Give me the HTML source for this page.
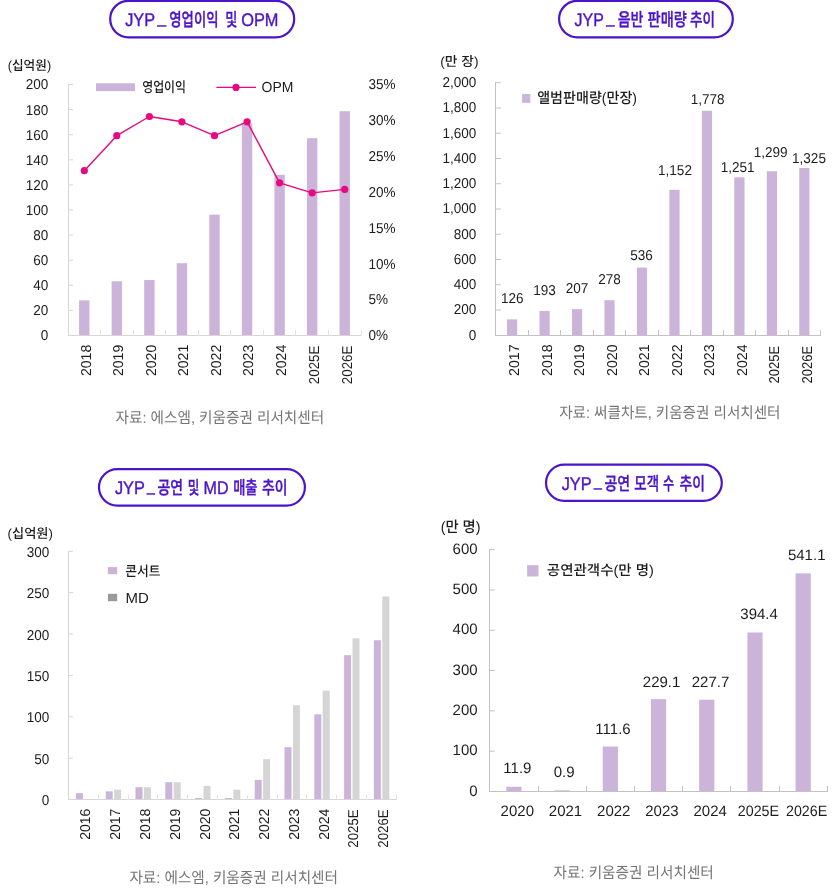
<!DOCTYPE html>
<html lang="ko"><head><meta charset="utf-8"><title>JYP charts</title>
<style>
html,body{margin:0;padding:0;background:#fff}
svg{display:block;will-change:transform}
text{text-rendering:geometricPrecision}
text{font-family:"Liberation Sans","Noto Sans CJK KR",sans-serif}
</style></head><body>
<svg width="833" height="888" viewBox="0 0 833 888">
<rect width="833" height="888" fill="#fff"/>
<g id="c1">
<rect x="110.20" y="0.80" width="184.00" height="36.50" rx="18.25" fill="#fff" stroke="#4b14c9" stroke-width="2.2"/>
<g font-size="18.2" font-weight="500" fill="#4b14c9" stroke="#4b14c9" stroke-width="0.4">
<text x="125.20" y="26.40" textLength="29.80" lengthAdjust="spacingAndGlyphs">JYP</text>
<text x="157.50" y="22.80" textLength="8.50" lengthAdjust="spacingAndGlyphs">_</text>
<text x="169.30" y="26.40" textLength="49.20" lengthAdjust="spacingAndGlyphs">영업이익</text>
<text x="225.30" y="26.40" textLength="12.10" lengthAdjust="spacingAndGlyphs">및</text>
<text x="241.20" y="26.40" textLength="37.30" lengthAdjust="spacingAndGlyphs">OPM</text>
</g>
<text font-size="13.2" fill="#1c1c1c" font-weight="500" textLength="43.40" lengthAdjust="spacingAndGlyphs" transform="translate(7.70 69.80)">(십억원)</text>
<rect x="79.08" y="300.36" width="10.40" height="35.14" fill="#ccb3da"/>
<rect x="111.63" y="281.28" width="10.40" height="54.22" fill="#ccb3da"/>
<rect x="144.19" y="280.03" width="10.40" height="55.47" fill="#ccb3da"/>
<rect x="176.74" y="263.21" width="10.40" height="72.29" fill="#ccb3da"/>
<rect x="209.30" y="214.64" width="10.40" height="120.86" fill="#ccb3da"/>
<rect x="241.86" y="123.41" width="10.40" height="212.09" fill="#ccb3da"/>
<rect x="274.41" y="174.86" width="10.40" height="160.64" fill="#ccb3da"/>
<rect x="306.97" y="138.21" width="10.40" height="197.29" fill="#ccb3da"/>
<rect x="339.52" y="111.23" width="10.40" height="224.27" fill="#ccb3da"/>
<line x1="68.50" y1="84.00" x2="68.50" y2="336.00" stroke="#d6d6d6" stroke-width="1"/>
<line x1="68.00" y1="335.50" x2="361.00" y2="335.50" stroke="#d6d6d6" stroke-width="1"/>
<line x1="68.00" y1="310.40" x2="73.00" y2="310.40" stroke="#d6d6d6" stroke-width="1.001"/>
<line x1="68.00" y1="285.30" x2="73.00" y2="285.30" stroke="#d6d6d6" stroke-width="1.001"/>
<line x1="68.00" y1="260.20" x2="73.00" y2="260.20" stroke="#d6d6d6" stroke-width="1.001"/>
<line x1="68.00" y1="235.10" x2="73.00" y2="235.10" stroke="#d6d6d6" stroke-width="1.001"/>
<line x1="68.00" y1="210.00" x2="73.00" y2="210.00" stroke="#d6d6d6" stroke-width="1.001"/>
<line x1="68.00" y1="184.90" x2="73.00" y2="184.90" stroke="#d6d6d6" stroke-width="1.001"/>
<line x1="68.00" y1="159.80" x2="73.00" y2="159.80" stroke="#d6d6d6" stroke-width="1.001"/>
<line x1="68.00" y1="134.70" x2="73.00" y2="134.70" stroke="#d6d6d6" stroke-width="1.001"/>
<line x1="68.00" y1="109.60" x2="73.00" y2="109.60" stroke="#d6d6d6" stroke-width="1.001"/>
<line x1="68.00" y1="84.50" x2="73.00" y2="84.50" stroke="#d6d6d6" stroke-width="1.001"/>
<line x1="100.50" y1="336.00" x2="100.50" y2="330.00" stroke="#e2e2e2" stroke-width="1"/>
<line x1="133.50" y1="336.00" x2="133.50" y2="330.00" stroke="#e2e2e2" stroke-width="1"/>
<line x1="165.50" y1="336.00" x2="165.50" y2="330.00" stroke="#e2e2e2" stroke-width="1"/>
<line x1="198.50" y1="336.00" x2="198.50" y2="330.00" stroke="#e2e2e2" stroke-width="1"/>
<line x1="230.50" y1="336.00" x2="230.50" y2="330.00" stroke="#e2e2e2" stroke-width="1"/>
<line x1="263.50" y1="336.00" x2="263.50" y2="330.00" stroke="#e2e2e2" stroke-width="1"/>
<line x1="295.50" y1="336.00" x2="295.50" y2="330.00" stroke="#e2e2e2" stroke-width="1"/>
<line x1="328.50" y1="336.00" x2="328.50" y2="330.00" stroke="#e2e2e2" stroke-width="1"/>
<line x1="361.50" y1="336.00" x2="361.50" y2="330.00" stroke="#e2e2e2" stroke-width="1"/>
<text font-size="14.3" text-anchor="end" fill="#1c1c1c" transform="translate(48.20 340.40) scale(0.945 1)">0</text>
<text font-size="14.3" text-anchor="end" fill="#1c1c1c" transform="translate(48.20 315.30) scale(0.945 1)">20</text>
<text font-size="14.3" text-anchor="end" fill="#1c1c1c" transform="translate(48.20 290.20) scale(0.945 1)">40</text>
<text font-size="14.3" text-anchor="end" fill="#1c1c1c" transform="translate(48.20 265.10) scale(0.945 1)">60</text>
<text font-size="14.3" text-anchor="end" fill="#1c1c1c" transform="translate(48.20 240.00) scale(0.945 1)">80</text>
<text font-size="14.3" text-anchor="end" fill="#1c1c1c" transform="translate(48.20 214.90) scale(0.945 1)">100</text>
<text font-size="14.3" text-anchor="end" fill="#1c1c1c" transform="translate(48.20 189.80) scale(0.945 1)">120</text>
<text font-size="14.3" text-anchor="end" fill="#1c1c1c" transform="translate(48.20 164.70) scale(0.945 1)">140</text>
<text font-size="14.3" text-anchor="end" fill="#1c1c1c" transform="translate(48.20 139.60) scale(0.945 1)">160</text>
<text font-size="14.3" text-anchor="end" fill="#1c1c1c" transform="translate(48.20 114.50) scale(0.945 1)">180</text>
<text font-size="14.3" text-anchor="end" fill="#1c1c1c" transform="translate(48.20 89.40) scale(0.945 1)">200</text>
<text font-size="14.3" fill="#1c1c1c" transform="translate(368.40 340.30) scale(0.945 1)">0%</text>
<text font-size="14.3" fill="#1c1c1c" transform="translate(368.40 304.44) scale(0.945 1)">5%</text>
<text font-size="14.3" fill="#1c1c1c" transform="translate(368.40 268.59) scale(0.945 1)">10%</text>
<text font-size="14.3" fill="#1c1c1c" transform="translate(368.40 232.73) scale(0.945 1)">15%</text>
<text font-size="14.3" fill="#1c1c1c" transform="translate(368.40 196.87) scale(0.945 1)">20%</text>
<text font-size="14.3" fill="#1c1c1c" transform="translate(368.40 161.01) scale(0.945 1)">25%</text>
<text font-size="14.3" fill="#1c1c1c" transform="translate(368.40 125.16) scale(0.945 1)">30%</text>
<text font-size="14.3" fill="#1c1c1c" transform="translate(368.40 89.30) scale(0.945 1)">35%</text>
<polyline fill="none" stroke="#e8087f" stroke-width="1.4" stroke-linejoin="round" points="84.3,170.7 116.8,135.7 149.4,116.5 181.9,121.8 214.5,135.7 247.1,121.8 279.6,182.8 312.2,192.9 344.7,189.4"/>
<circle cx="84.3" cy="170.7" r="3.6" fill="#e8087f"/>
<circle cx="116.8" cy="135.7" r="3.6" fill="#e8087f"/>
<circle cx="149.4" cy="116.5" r="3.6" fill="#e8087f"/>
<circle cx="181.9" cy="121.8" r="3.6" fill="#e8087f"/>
<circle cx="214.5" cy="135.7" r="3.6" fill="#e8087f"/>
<circle cx="247.1" cy="121.8" r="3.6" fill="#e8087f"/>
<circle cx="279.6" cy="182.8" r="3.6" fill="#e8087f"/>
<circle cx="312.2" cy="192.9" r="3.6" fill="#e8087f"/>
<circle cx="344.7" cy="189.4" r="3.6" fill="#e8087f"/>
<rect x="96.00" y="83.30" width="39.00" height="7.80" fill="#ccb3da"/>
<text font-size="14.2" fill="#1c1c1c" font-weight="500" textLength="43.80" lengthAdjust="spacingAndGlyphs" transform="translate(142.20 91.50)">영업이익</text>
<line x1="216.40" y1="87.40" x2="256.00" y2="87.40" stroke="#e8087f" stroke-width="1.4"/>
<circle cx="236" cy="87.4" r="3.6" fill="#e8087f"/>
<text font-size="14.6" fill="#1c1c1c" textLength="31.80" lengthAdjust="spacingAndGlyphs" transform="translate(261.60 91.80)">OPM</text>
<text font-size="14.3" text-anchor="end" fill="#1c1c1c" textLength="33.12" lengthAdjust="spacingAndGlyphs" transform="translate(90.58 344.80) rotate(-90) scale(0.945 1)">2018</text>
<text font-size="14.3" text-anchor="end" fill="#1c1c1c" textLength="33.12" lengthAdjust="spacingAndGlyphs" transform="translate(123.13 344.80) rotate(-90) scale(0.945 1)">2019</text>
<text font-size="14.3" text-anchor="end" fill="#1c1c1c" textLength="33.12" lengthAdjust="spacingAndGlyphs" transform="translate(155.69 344.80) rotate(-90) scale(0.945 1)">2020</text>
<text font-size="14.3" text-anchor="end" fill="#1c1c1c" textLength="33.12" lengthAdjust="spacingAndGlyphs" transform="translate(188.24 344.80) rotate(-90) scale(0.945 1)">2021</text>
<text font-size="14.3" text-anchor="end" fill="#1c1c1c" textLength="33.12" lengthAdjust="spacingAndGlyphs" transform="translate(220.80 344.80) rotate(-90) scale(0.945 1)">2022</text>
<text font-size="14.3" text-anchor="end" fill="#1c1c1c" textLength="33.12" lengthAdjust="spacingAndGlyphs" transform="translate(253.36 344.80) rotate(-90) scale(0.945 1)">2023</text>
<text font-size="14.3" text-anchor="end" fill="#1c1c1c" textLength="33.12" lengthAdjust="spacingAndGlyphs" transform="translate(285.91 344.80) rotate(-90) scale(0.945 1)">2024</text>
<text font-size="14.3" text-anchor="end" fill="#1c1c1c" textLength="40.85" lengthAdjust="spacingAndGlyphs" transform="translate(319.17 345.60) rotate(-90) scale(0.945 1)">2025E</text>
<text font-size="14.3" text-anchor="end" fill="#1c1c1c" textLength="40.85" lengthAdjust="spacingAndGlyphs" transform="translate(351.72 345.60) rotate(-90) scale(0.945 1)">2026E</text>
<text font-size="15.5" fill="#767676" textLength="208.60" lengthAdjust="spacingAndGlyphs" transform="translate(115.60 422.70)">자료: 에스엠, 키움증권 리서치센터</text>
</g>
<g id="c2">
<rect x="559.10" y="0.80" width="173.70" height="36.50" rx="18.25" fill="#fff" stroke="#4b14c9" stroke-width="2.2"/>
<g font-size="18.2" font-weight="500" fill="#4b14c9" stroke="#4b14c9" stroke-width="0.4">
<text x="574.60" y="26.20" textLength="29.20" lengthAdjust="spacingAndGlyphs">JYP</text>
<text x="606.30" y="22.60" textLength="8.30" lengthAdjust="spacingAndGlyphs">_</text>
<text x="617.70" y="26.20" textLength="25.80" lengthAdjust="spacingAndGlyphs">음반</text>
<text x="647.60" y="26.20" textLength="39.30" lengthAdjust="spacingAndGlyphs">판매량</text>
<text x="690.00" y="26.20" textLength="25.00" lengthAdjust="spacingAndGlyphs">추이</text>
</g>
<text font-size="13.2" fill="#1c1c1c" font-weight="500" textLength="38.30" lengthAdjust="spacingAndGlyphs" transform="translate(440.20 66.00)">(만 장)</text>
<rect x="507.03" y="319.39" width="10.20" height="15.91" fill="#ccb3da"/>
<rect x="539.50" y="310.92" width="10.20" height="24.38" fill="#ccb3da"/>
<rect x="571.98" y="309.16" width="10.20" height="26.14" fill="#ccb3da"/>
<rect x="604.44" y="300.19" width="10.20" height="35.11" fill="#ccb3da"/>
<rect x="636.91" y="267.60" width="10.20" height="67.70" fill="#ccb3da"/>
<rect x="669.38" y="189.80" width="10.20" height="145.50" fill="#ccb3da"/>
<rect x="701.86" y="110.74" width="10.20" height="224.56" fill="#ccb3da"/>
<rect x="734.32" y="177.30" width="10.20" height="158.00" fill="#ccb3da"/>
<rect x="766.79" y="171.24" width="10.20" height="164.06" fill="#ccb3da"/>
<rect x="799.26" y="167.95" width="10.20" height="167.35" fill="#ccb3da"/>
<line x1="495.50" y1="82.00" x2="495.50" y2="335.00" stroke="#c2c2c2" stroke-width="1"/>
<line x1="495.00" y1="335.50" x2="821.00" y2="335.50" stroke="#c2c2c2" stroke-width="1"/>
<line x1="495.90" y1="310.04" x2="500.90" y2="310.04" stroke="#c2c2c2" stroke-width="1.001"/>
<line x1="495.90" y1="284.78" x2="500.90" y2="284.78" stroke="#c2c2c2" stroke-width="1.001"/>
<line x1="495.90" y1="259.52" x2="500.90" y2="259.52" stroke="#c2c2c2" stroke-width="1.001"/>
<line x1="495.90" y1="234.26" x2="500.90" y2="234.26" stroke="#c2c2c2" stroke-width="1.001"/>
<line x1="495.90" y1="209.00" x2="500.90" y2="209.00" stroke="#c2c2c2" stroke-width="1.001"/>
<line x1="495.90" y1="183.74" x2="500.90" y2="183.74" stroke="#c2c2c2" stroke-width="1.001"/>
<line x1="495.90" y1="158.48" x2="500.90" y2="158.48" stroke="#c2c2c2" stroke-width="1.001"/>
<line x1="495.90" y1="133.22" x2="500.90" y2="133.22" stroke="#c2c2c2" stroke-width="1.001"/>
<line x1="495.90" y1="107.96" x2="500.90" y2="107.96" stroke="#c2c2c2" stroke-width="1.001"/>
<line x1="495.90" y1="82.70" x2="500.90" y2="82.70" stroke="#c2c2c2" stroke-width="1.001"/>
<line x1="528.50" y1="335.00" x2="528.50" y2="330.00" stroke="#c2c2c2" stroke-width="1"/>
<line x1="560.50" y1="335.00" x2="560.50" y2="330.00" stroke="#c2c2c2" stroke-width="1"/>
<line x1="593.50" y1="335.00" x2="593.50" y2="330.00" stroke="#c2c2c2" stroke-width="1"/>
<line x1="625.50" y1="335.00" x2="625.50" y2="330.00" stroke="#c2c2c2" stroke-width="1"/>
<line x1="658.50" y1="335.00" x2="658.50" y2="330.00" stroke="#c2c2c2" stroke-width="1"/>
<line x1="690.50" y1="335.00" x2="690.50" y2="330.00" stroke="#c2c2c2" stroke-width="1"/>
<line x1="723.50" y1="335.00" x2="723.50" y2="330.00" stroke="#c2c2c2" stroke-width="1"/>
<line x1="755.50" y1="335.00" x2="755.50" y2="330.00" stroke="#c2c2c2" stroke-width="1"/>
<line x1="788.50" y1="335.00" x2="788.50" y2="330.00" stroke="#c2c2c2" stroke-width="1"/>
<line x1="820.50" y1="335.00" x2="820.50" y2="330.00" stroke="#c2c2c2" stroke-width="1"/>
<text font-size="14.3" text-anchor="end" fill="#1c1c1c" transform="translate(476.20 339.60) scale(0.945 1)">0</text>
<text font-size="14.3" text-anchor="end" fill="#1c1c1c" transform="translate(476.20 314.34) scale(0.945 1)">200</text>
<text font-size="14.3" text-anchor="end" fill="#1c1c1c" transform="translate(476.20 289.08) scale(0.945 1)">400</text>
<text font-size="14.3" text-anchor="end" fill="#1c1c1c" transform="translate(476.20 263.82) scale(0.945 1)">600</text>
<text font-size="14.3" text-anchor="end" fill="#1c1c1c" transform="translate(476.20 238.56) scale(0.945 1)">800</text>
<text font-size="14.3" text-anchor="end" fill="#1c1c1c" transform="translate(476.20 213.30) scale(0.945 1)">1,000</text>
<text font-size="14.3" text-anchor="end" fill="#1c1c1c" transform="translate(476.20 188.04) scale(0.945 1)">1,200</text>
<text font-size="14.3" text-anchor="end" fill="#1c1c1c" transform="translate(476.20 162.78) scale(0.945 1)">1,400</text>
<text font-size="14.3" text-anchor="end" fill="#1c1c1c" transform="translate(476.20 137.52) scale(0.945 1)">1,600</text>
<text font-size="14.3" text-anchor="end" fill="#1c1c1c" transform="translate(476.20 112.26) scale(0.945 1)">1,800</text>
<text font-size="14.3" text-anchor="end" fill="#1c1c1c" transform="translate(476.20 87.00) scale(0.945 1)">2,000</text>
<text font-size="14.3" text-anchor="middle" fill="#1c1c1c" transform="translate(512.30 303.20) scale(0.945 1)">126</text>
<text font-size="14.3" text-anchor="middle" fill="#1c1c1c" transform="translate(544.60 295.10) scale(0.945 1)">193</text>
<text font-size="14.3" text-anchor="middle" fill="#1c1c1c" transform="translate(577.00 292.60) scale(0.945 1)">207</text>
<text font-size="14.3" text-anchor="middle" fill="#1c1c1c" transform="translate(609.40 284.30) scale(0.945 1)">278</text>
<text font-size="14.3" text-anchor="middle" fill="#1c1c1c" transform="translate(641.40 259.90) scale(0.945 1)">536</text>
<text font-size="14.3" text-anchor="middle" fill="#1c1c1c" transform="translate(675.00 174.50) scale(0.945 1)">1,152</text>
<text font-size="14.3" text-anchor="middle" fill="#1c1c1c" transform="translate(707.70 104.20) scale(0.945 1)">1,778</text>
<text font-size="14.3" text-anchor="middle" fill="#1c1c1c" transform="translate(737.70 171.90) scale(0.945 1)">1,251</text>
<text font-size="14.3" text-anchor="middle" fill="#1c1c1c" transform="translate(770.60 156.80) scale(0.945 1)">1,299</text>
<text font-size="14.3" text-anchor="middle" fill="#1c1c1c" transform="translate(809.00 162.50) scale(0.945 1)">1,325</text>
<rect x="522.10" y="94.00" width="8.20" height="8.90" fill="#ccb3da"/>
<text font-size="14.8" fill="#1c1c1c" font-weight="500" textLength="99.80" lengthAdjust="spacingAndGlyphs" transform="translate(537.20 103.10)">앨범판매량(만장)</text>
<text font-size="14.3" text-anchor="end" fill="#1c1c1c" textLength="33.33" lengthAdjust="spacingAndGlyphs" transform="translate(519.43 344.40) rotate(-90) scale(0.945 1)">2017</text>
<text font-size="14.3" text-anchor="end" fill="#1c1c1c" textLength="33.33" lengthAdjust="spacingAndGlyphs" transform="translate(551.90 344.40) rotate(-90) scale(0.945 1)">2018</text>
<text font-size="14.3" text-anchor="end" fill="#1c1c1c" textLength="33.33" lengthAdjust="spacingAndGlyphs" transform="translate(584.38 344.40) rotate(-90) scale(0.945 1)">2019</text>
<text font-size="14.3" text-anchor="end" fill="#1c1c1c" textLength="33.33" lengthAdjust="spacingAndGlyphs" transform="translate(616.84 344.40) rotate(-90) scale(0.945 1)">2020</text>
<text font-size="14.3" text-anchor="end" fill="#1c1c1c" textLength="33.33" lengthAdjust="spacingAndGlyphs" transform="translate(649.31 344.40) rotate(-90) scale(0.945 1)">2021</text>
<text font-size="14.3" text-anchor="end" fill="#1c1c1c" textLength="33.33" lengthAdjust="spacingAndGlyphs" transform="translate(681.78 344.40) rotate(-90) scale(0.945 1)">2022</text>
<text font-size="14.3" text-anchor="end" fill="#1c1c1c" textLength="33.33" lengthAdjust="spacingAndGlyphs" transform="translate(714.25 344.40) rotate(-90) scale(0.945 1)">2023</text>
<text font-size="14.3" text-anchor="end" fill="#1c1c1c" textLength="33.33" lengthAdjust="spacingAndGlyphs" transform="translate(746.72 344.40) rotate(-90) scale(0.945 1)">2024</text>
<text font-size="14.3" text-anchor="end" fill="#1c1c1c" textLength="39.79" lengthAdjust="spacingAndGlyphs" transform="translate(779.19 345.80) rotate(-90) scale(0.945 1)">2025E</text>
<text font-size="14.3" text-anchor="end" fill="#1c1c1c" textLength="39.79" lengthAdjust="spacingAndGlyphs" transform="translate(811.66 345.80) rotate(-90) scale(0.945 1)">2026E</text>
<text font-size="15.5" fill="#767676" textLength="221.30" lengthAdjust="spacingAndGlyphs" transform="translate(559.20 418.20)">자료: 써클차트, 키움증권 리서치센터</text>
</g>
<g id="c3">
<rect x="99.00" y="469.10" width="205.90" height="36.50" rx="18.25" fill="#fff" stroke="#4b14c9" stroke-width="2.2"/>
<g font-size="18.2" font-weight="500" fill="#4b14c9" stroke="#4b14c9" stroke-width="0.4">
<text x="114.90" y="494.20" textLength="29.90" lengthAdjust="spacingAndGlyphs">JYP</text>
<text x="147.00" y="490.60" textLength="7.80" lengthAdjust="spacingAndGlyphs">_</text>
<text x="157.50" y="494.20" textLength="25.70" lengthAdjust="spacingAndGlyphs">공연</text>
<text x="187.80" y="494.20" textLength="11.60" lengthAdjust="spacingAndGlyphs">및</text>
<text x="203.50" y="494.20" textLength="25.10" lengthAdjust="spacingAndGlyphs">MD</text>
<text x="233.20" y="494.20" textLength="24.30" lengthAdjust="spacingAndGlyphs">매출</text>
<text x="262.10" y="494.20" textLength="25.50" lengthAdjust="spacingAndGlyphs">추이</text>
</g>
<text font-size="13.2" fill="#1c1c1c" font-weight="500" textLength="45.30" lengthAdjust="spacingAndGlyphs" transform="translate(7.60 538.00)">(십억원)</text>
<rect x="75.90" y="793.14" width="7.00" height="6.46" fill="#ccb3da"/>
<rect x="105.70" y="791.32" width="7.00" height="8.28" fill="#ccb3da"/>
<rect x="114.10" y="789.67" width="7.00" height="9.93" fill="#d5d5d5"/>
<rect x="135.50" y="787.19" width="7.00" height="12.42" fill="#ccb3da"/>
<rect x="143.90" y="787.19" width="7.00" height="12.42" fill="#d5d5d5"/>
<rect x="165.30" y="782.22" width="7.00" height="17.38" fill="#ccb3da"/>
<rect x="173.70" y="782.22" width="7.00" height="17.38" fill="#d5d5d5"/>
<rect x="195.10" y="798.03" width="7.00" height="1.57" fill="#ccb3da"/>
<rect x="203.50" y="785.86" width="7.00" height="13.74" fill="#d5d5d5"/>
<rect x="224.90" y="798.03" width="7.00" height="1.57" fill="#ccb3da"/>
<rect x="233.30" y="789.67" width="7.00" height="9.93" fill="#d5d5d5"/>
<rect x="254.70" y="779.90" width="7.00" height="19.70" fill="#ccb3da"/>
<rect x="263.10" y="759.21" width="7.00" height="40.39" fill="#d5d5d5"/>
<rect x="284.50" y="747.21" width="7.00" height="52.39" fill="#ccb3da"/>
<rect x="292.90" y="705.25" width="7.00" height="94.35" fill="#d5d5d5"/>
<rect x="314.30" y="714.35" width="7.00" height="85.25" fill="#ccb3da"/>
<rect x="322.70" y="690.68" width="7.00" height="108.92" fill="#d5d5d5"/>
<rect x="344.10" y="655.17" width="7.00" height="144.43" fill="#ccb3da"/>
<rect x="352.50" y="638.37" width="7.00" height="161.23" fill="#d5d5d5"/>
<rect x="373.90" y="640.27" width="7.00" height="159.33" fill="#ccb3da"/>
<rect x="382.30" y="596.41" width="7.00" height="203.19" fill="#d5d5d5"/>
<line x1="68.50" y1="551.00" x2="68.50" y2="800.00" stroke="#d6d6d6" stroke-width="1"/>
<line x1="68.00" y1="799.50" x2="396.00" y2="799.50" stroke="#d6d6d6" stroke-width="1"/>
<line x1="68.40" y1="758.22" x2="72.90" y2="758.22" stroke="#d6d6d6" stroke-width="1.001"/>
<line x1="68.40" y1="716.83" x2="72.90" y2="716.83" stroke="#d6d6d6" stroke-width="1.001"/>
<line x1="68.40" y1="675.45" x2="72.90" y2="675.45" stroke="#d6d6d6" stroke-width="1.001"/>
<line x1="68.40" y1="634.07" x2="72.90" y2="634.07" stroke="#d6d6d6" stroke-width="1.001"/>
<line x1="68.40" y1="592.68" x2="72.90" y2="592.68" stroke="#d6d6d6" stroke-width="1.001"/>
<line x1="68.40" y1="551.30" x2="72.90" y2="551.30" stroke="#d6d6d6" stroke-width="1.001"/>
<line x1="98.50" y1="800.00" x2="98.50" y2="795.00" stroke="#e2e2e2" stroke-width="1"/>
<line x1="128.50" y1="800.00" x2="128.50" y2="795.00" stroke="#e2e2e2" stroke-width="1"/>
<line x1="157.50" y1="800.00" x2="157.50" y2="795.00" stroke="#e2e2e2" stroke-width="1"/>
<line x1="187.50" y1="800.00" x2="187.50" y2="795.00" stroke="#e2e2e2" stroke-width="1"/>
<line x1="217.50" y1="800.00" x2="217.50" y2="795.00" stroke="#e2e2e2" stroke-width="1"/>
<line x1="247.50" y1="800.00" x2="247.50" y2="795.00" stroke="#e2e2e2" stroke-width="1"/>
<line x1="277.50" y1="800.00" x2="277.50" y2="795.00" stroke="#e2e2e2" stroke-width="1"/>
<line x1="306.50" y1="800.00" x2="306.50" y2="795.00" stroke="#e2e2e2" stroke-width="1"/>
<line x1="336.50" y1="800.00" x2="336.50" y2="795.00" stroke="#e2e2e2" stroke-width="1"/>
<line x1="366.50" y1="800.00" x2="366.50" y2="795.00" stroke="#e2e2e2" stroke-width="1"/>
<line x1="396.50" y1="800.00" x2="396.50" y2="795.00" stroke="#e2e2e2" stroke-width="1"/>
<text font-size="14.3" text-anchor="end" fill="#1c1c1c" transform="translate(49.30 805.20) scale(0.945 1)">0</text>
<text font-size="14.3" text-anchor="end" fill="#1c1c1c" transform="translate(49.30 763.82) scale(0.945 1)">50</text>
<text font-size="14.3" text-anchor="end" fill="#1c1c1c" transform="translate(49.30 722.43) scale(0.945 1)">100</text>
<text font-size="14.3" text-anchor="end" fill="#1c1c1c" transform="translate(49.30 681.05) scale(0.945 1)">150</text>
<text font-size="14.3" text-anchor="end" fill="#1c1c1c" transform="translate(49.30 639.67) scale(0.945 1)">200</text>
<text font-size="14.3" text-anchor="end" fill="#1c1c1c" transform="translate(49.30 598.28) scale(0.945 1)">250</text>
<text font-size="14.3" text-anchor="end" fill="#1c1c1c" transform="translate(49.30 556.90) scale(0.945 1)">300</text>
<rect x="107.90" y="567.10" width="9.30" height="7.10" fill="#ccb3da"/>
<text font-size="13.8" fill="#1c1c1c" font-weight="500" textLength="35.30" lengthAdjust="spacingAndGlyphs" transform="translate(125.30 575.50)">콘서트</text>
<rect x="107.90" y="593.80" width="9.30" height="7.40" fill="#9a9a9a"/>
<text font-size="14.6" fill="#1c1c1c" textLength="23.30" lengthAdjust="spacingAndGlyphs" transform="translate(125.50 602.70)">MD</text>
<text font-size="14.3" text-anchor="end" fill="#1c1c1c" textLength="32.91" lengthAdjust="spacingAndGlyphs" transform="translate(90.30 808.70) rotate(-90) scale(0.945 1)">2016</text>
<text font-size="14.3" text-anchor="end" fill="#1c1c1c" textLength="32.91" lengthAdjust="spacingAndGlyphs" transform="translate(120.10 808.70) rotate(-90) scale(0.945 1)">2017</text>
<text font-size="14.3" text-anchor="end" fill="#1c1c1c" textLength="32.91" lengthAdjust="spacingAndGlyphs" transform="translate(149.90 808.70) rotate(-90) scale(0.945 1)">2018</text>
<text font-size="14.3" text-anchor="end" fill="#1c1c1c" textLength="32.91" lengthAdjust="spacingAndGlyphs" transform="translate(179.70 808.70) rotate(-90) scale(0.945 1)">2019</text>
<text font-size="14.3" text-anchor="end" fill="#1c1c1c" textLength="32.91" lengthAdjust="spacingAndGlyphs" transform="translate(209.50 808.70) rotate(-90) scale(0.945 1)">2020</text>
<text font-size="14.3" text-anchor="end" fill="#1c1c1c" textLength="32.91" lengthAdjust="spacingAndGlyphs" transform="translate(239.30 808.70) rotate(-90) scale(0.945 1)">2021</text>
<text font-size="14.3" text-anchor="end" fill="#1c1c1c" textLength="32.91" lengthAdjust="spacingAndGlyphs" transform="translate(269.10 808.70) rotate(-90) scale(0.945 1)">2022</text>
<text font-size="14.3" text-anchor="end" fill="#1c1c1c" textLength="32.91" lengthAdjust="spacingAndGlyphs" transform="translate(298.90 808.70) rotate(-90) scale(0.945 1)">2023</text>
<text font-size="14.3" text-anchor="end" fill="#1c1c1c" textLength="32.91" lengthAdjust="spacingAndGlyphs" transform="translate(328.70 808.70) rotate(-90) scale(0.945 1)">2024</text>
<text font-size="14.3" text-anchor="end" fill="#1c1c1c" textLength="40.53" lengthAdjust="spacingAndGlyphs" transform="translate(358.00 809.40) rotate(-90) scale(0.945 1)">2025E</text>
<text font-size="14.3" text-anchor="end" fill="#1c1c1c" textLength="40.53" lengthAdjust="spacingAndGlyphs" transform="translate(387.80 809.40) rotate(-90) scale(0.945 1)">2026E</text>
<text font-size="15.5" fill="#767676" textLength="208.60" lengthAdjust="spacingAndGlyphs" transform="translate(129.40 882.70)">자료: 에스엠, 키움증권 리서치센터</text>
</g>
<g id="c4">
<rect x="546.00" y="464.60" width="175.80" height="36.30" rx="18.15" fill="#fff" stroke="#4b14c9" stroke-width="2.2"/>
<g font-size="18.2" font-weight="500" fill="#4b14c9" stroke="#4b14c9" stroke-width="0.4">
<text x="561.70" y="489.70" textLength="30.00" lengthAdjust="spacingAndGlyphs">JYP</text>
<text x="594.00" y="486.10" textLength="7.80" lengthAdjust="spacingAndGlyphs">_</text>
<text x="604.40" y="489.70" textLength="25.80" lengthAdjust="spacingAndGlyphs">공연</text>
<text x="634.30" y="489.70" textLength="24.70" lengthAdjust="spacingAndGlyphs">모객</text>
<text x="662.90" y="489.70" textLength="11.10" lengthAdjust="spacingAndGlyphs">수</text>
<text x="679.50" y="489.70" textLength="25.50" lengthAdjust="spacingAndGlyphs">추이</text>
</g>
<text font-size="15" fill="#1c1c1c" font-weight="500" textLength="39.80" lengthAdjust="spacingAndGlyphs" transform="translate(440.70 532.00)">(만 명)</text>
<rect x="506.31" y="786.70" width="15.20" height="4.80" fill="#ccb3da"/>
<rect x="554.52" y="790.30" width="15.20" height="1.20" fill="#ccb3da"/>
<rect x="602.74" y="746.51" width="15.20" height="44.99" fill="#ccb3da"/>
<rect x="650.95" y="699.13" width="15.20" height="92.37" fill="#ccb3da"/>
<rect x="699.16" y="699.70" width="15.20" height="91.80" fill="#ccb3da"/>
<rect x="747.38" y="632.49" width="15.20" height="159.01" fill="#ccb3da"/>
<rect x="795.59" y="573.35" width="15.20" height="218.15" fill="#ccb3da"/>
<line x1="489.50" y1="549.00" x2="489.50" y2="792.00" stroke="#c2c2c2" stroke-width="1"/>
<line x1="489.00" y1="791.50" x2="827.00" y2="791.50" stroke="#c2c2c2" stroke-width="1"/>
<line x1="489.80" y1="751.18" x2="494.80" y2="751.18" stroke="#c2c2c2" stroke-width="1.001"/>
<line x1="489.80" y1="710.87" x2="494.80" y2="710.87" stroke="#c2c2c2" stroke-width="1.001"/>
<line x1="489.80" y1="670.55" x2="494.80" y2="670.55" stroke="#c2c2c2" stroke-width="1.001"/>
<line x1="489.80" y1="630.23" x2="494.80" y2="630.23" stroke="#c2c2c2" stroke-width="1.001"/>
<line x1="489.80" y1="589.92" x2="494.80" y2="589.92" stroke="#c2c2c2" stroke-width="1.001"/>
<line x1="489.80" y1="549.60" x2="494.80" y2="549.60" stroke="#c2c2c2" stroke-width="1.001"/>
<line x1="538.50" y1="792.00" x2="538.50" y2="786.00" stroke="#c2c2c2" stroke-width="1"/>
<line x1="586.50" y1="792.00" x2="586.50" y2="786.00" stroke="#c2c2c2" stroke-width="1"/>
<line x1="634.50" y1="792.00" x2="634.50" y2="786.00" stroke="#c2c2c2" stroke-width="1"/>
<line x1="682.50" y1="792.00" x2="682.50" y2="786.00" stroke="#c2c2c2" stroke-width="1"/>
<line x1="730.50" y1="792.00" x2="730.50" y2="786.00" stroke="#c2c2c2" stroke-width="1"/>
<line x1="779.50" y1="792.00" x2="779.50" y2="786.00" stroke="#c2c2c2" stroke-width="1"/>
<line x1="827.50" y1="792.00" x2="827.50" y2="786.00" stroke="#c2c2c2" stroke-width="1"/>
<text font-size="15" text-anchor="end" fill="#1c1c1c" transform="translate(477.60 795.50)">0</text>
<text font-size="15" text-anchor="end" fill="#1c1c1c" transform="translate(477.60 755.18)">100</text>
<text font-size="15" text-anchor="end" fill="#1c1c1c" transform="translate(477.60 714.87)">200</text>
<text font-size="15" text-anchor="end" fill="#1c1c1c" transform="translate(477.60 674.55)">300</text>
<text font-size="15" text-anchor="end" fill="#1c1c1c" transform="translate(477.60 634.23)">400</text>
<text font-size="15" text-anchor="end" fill="#1c1c1c" transform="translate(477.60 593.92)">500</text>
<text font-size="15" text-anchor="end" fill="#1c1c1c" transform="translate(477.60 553.60)">600</text>
<text font-size="15" text-anchor="middle" fill="#1c1c1c" transform="translate(517.40 773.20)">11.9</text>
<text font-size="15" text-anchor="middle" fill="#1c1c1c" transform="translate(564.20 777.40)">0.9</text>
<text font-size="15" text-anchor="middle" fill="#1c1c1c" transform="translate(613.00 733.80)">111.6</text>
<text font-size="15" text-anchor="middle" fill="#1c1c1c" transform="translate(661.60 686.60)">229.1</text>
<text font-size="15" text-anchor="middle" fill="#1c1c1c" transform="translate(710.50 686.60)">227.7</text>
<text font-size="15" text-anchor="middle" fill="#1c1c1c" transform="translate(759.10 619.30)">394.4</text>
<text font-size="15" text-anchor="middle" fill="#1c1c1c" transform="translate(806.70 560.10)">541.1</text>
<rect x="527.10" y="565.20" width="11.40" height="11.30" fill="#ccb3da"/>
<text font-size="14" fill="#1c1c1c" font-weight="500" textLength="107.00" lengthAdjust="spacingAndGlyphs" transform="translate(546.80 574.80)">공연관객수(만 명)</text>
<text font-size="15" text-anchor="middle" fill="#1c1c1c" transform="translate(517.31 816.00)">2020</text>
<text font-size="15" text-anchor="middle" fill="#1c1c1c" transform="translate(565.52 816.00)">2021</text>
<text font-size="15" text-anchor="middle" fill="#1c1c1c" transform="translate(613.74 816.00)">2022</text>
<text font-size="15" text-anchor="middle" fill="#1c1c1c" transform="translate(661.95 816.00)">2023</text>
<text font-size="15" text-anchor="middle" fill="#1c1c1c" transform="translate(710.16 816.00)">2024</text>
<text font-size="15" text-anchor="middle" fill="#1c1c1c" textLength="41.20" lengthAdjust="spacingAndGlyphs" transform="translate(758.38 816.00)">2025E</text>
<text font-size="15" text-anchor="middle" fill="#1c1c1c" textLength="41.20" lengthAdjust="spacingAndGlyphs" transform="translate(806.59 816.00)">2026E</text>
<text font-size="15.5" fill="#767676" textLength="160.20" lengthAdjust="spacingAndGlyphs" transform="translate(553.60 877.90)">자료: 키움증권 리서치센터</text>
</g>
</svg>
</body></html>
